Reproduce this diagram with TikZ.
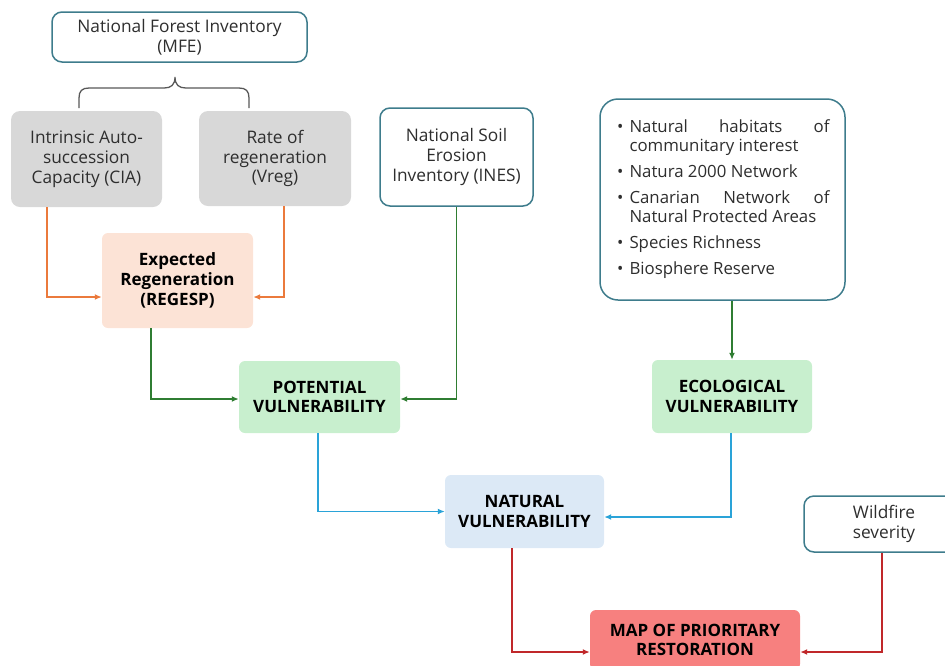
\documentclass[tikz,border=0pt]{standalone}
\usepackage{fontspec}
\setmainfont{Open Sans}
\usetikzlibrary{arrows.meta}
\definecolor{bordc}{HTML}{3E7C8C}
\definecolor{grayf}{HTML}{D8D8D8}
\definecolor{peachf}{HTML}{FCE3D6}
\definecolor{greenf}{HTML}{C8EFCE}
\definecolor{bluef}{HTML}{DCE9F6}
\definecolor{redf}{HTML}{F7807F}
\definecolor{txt}{HTML}{2E2E2E}
\definecolor{oarc}{HTML}{EB7A3C}
\definecolor{garc}{HTML}{2F7D32}
\definecolor{barc}{HTML}{2AA3D8}
\definecolor{rarc}{HTML}{C0282A}
\tikzset{
  base/.style={align=center, text=txt, font=\fontsize{17.3}{19.8}\selectfont, inner sep=0pt},
  wbox/.style={base, draw=bordc, line width=1.5pt, fill=white, rounded corners=10pt},
  gbox/.style={base, fill=grayf, rounded corners=9pt},
  cbox/.style={base, text=black, font=\fontsize{17}{19.8}\selectfont\bfseries, rounded corners=6pt},
  conn/.style={line width=1.5pt, -{Latex[length=7pt,width=6pt]}},
}
\begin{document}
\begin{tikzpicture}[x=1pt,y=-1pt]
\useasboundingbox (0,0) rectangle (945,665);
\clip (0,0) rectangle (945,665);
% nodes
\node[wbox, minimum width=255pt, minimum height=50pt] (mfe) at (179.5,37) {National Forest Inventory\\(MFE)};
\node[gbox, minimum width=151pt, minimum height=96pt] (cia) at (86.5,159) {Intrinsic Auto-\\succession\\Capacity (CIA)};
\node[gbox, minimum width=152pt, minimum height=95pt] (vreg) at (275,158.5) {Rate of\\regeneration\\(Vreg)};
\node[cbox, fill=peachf, minimum width=151pt, minimum height=95pt] (reg) at (177.5,280.5) {Expected\\Regeneration\\(REGESP)};
\node[wbox, minimum width=153pt, minimum height=98pt] (ines) at (456.5,157) {National Soil\\Erosion\\Inventory (INES)};
\node[wbox, rounded corners=18pt, minimum width=245pt, minimum height=201pt, align=justify] (list) at (722.5,199.5) {%
\begin{minipage}{214pt}\fontsize{16.8}{19}\selectfont\hyphenpenalty=10000\exhyphenpenalty=10000
\begin{list}{\textbullet}{\setlength{\leftmargin}{14pt}\setlength{\labelwidth}{8pt}\setlength{\labelsep}{6pt}\setlength{\itemsep}{7pt}\setlength{\parsep}{0pt}\setlength{\topsep}{0pt}\setlength{\partopsep}{0pt}}
\item Natural habitats of communitary interest
\item Natura 2000 Network
\item Canarian Network of Natural Protected Areas
\item Species Richness
\item Biosphere Reserve
\end{list}\end{minipage}};
\node[cbox, fill=greenf, minimum width=161pt, minimum height=72pt] (pot) at (319.5,397) {POTENTIAL\\VULNERABILITY};
\node[cbox, fill=greenf, minimum width=160pt, minimum height=73pt] (ecol) at (732,396.5) {ECOLOGICAL\\VULNERABILITY};
\node[cbox, fill=bluef, minimum width=159pt, minimum height=73pt] (nat) at (524.5,511.5) {NATURAL\\VULNERABILITY};
\node[wbox, minimum width=160pt, minimum height=56pt] (wild) at (884,524) {Wildfire\\severity};
\node[cbox, fill=redf, minimum width=210pt, minimum height=60pt] (map) at (695,640) {MAP OF PRIORITARY\\RESTORATION};
% brace
\draw[line width=1.3pt, draw=txt!80] (79,108) -- (79,98) .. controls (79,91) and (82,88) .. (89,88) -- (164,88) .. controls (171,88) and (175,85) .. (175,77)
  .. controls (175,85) and (179,88) .. (186,88) -- (239,88) .. controls (246,88) and (249,91) .. (249,98) -- (249,108);
% connectors
\draw[conn, oarc] ([xshift=-39.5pt]cia.south) |- ([yshift=-16.5pt]reg.west);
\draw[conn, oarc] ([xshift=9pt]vreg.south) |- ([yshift=-16.5pt]reg.east);
\draw[conn, garc] ([xshift=-26.5pt]reg.south) |- ([yshift=-2pt]pot.west);
\draw[conn, garc] (ines.south) |- ([yshift=-2pt]pot.east);
\draw[conn, garc] (ecol.north |- list.south) -- (ecol.north);
\draw[conn, barc] ([xshift=-1.5pt]pot.south) |- (nat.west);
\draw[conn, barc] ([xshift=-1pt]ecol.south) |- ([yshift=-5.5pt]nat.east);
\draw[conn, rarc] ([xshift=-12.5pt]nat.south) |- ([yshift=-12pt]map.west);
\draw[conn, rarc] ([xshift=-2pt]wild.south) |- ([yshift=-12pt]map.east);
\end{tikzpicture}
\end{document}
